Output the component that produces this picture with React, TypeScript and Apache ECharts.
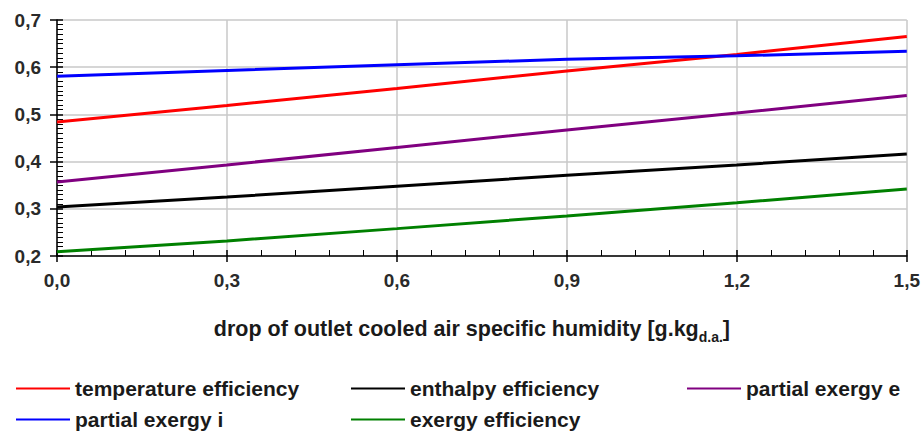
import React, { useEffect, useRef } from "react";
import * as echarts from "echarts";

const xValues = [0, 0.3, 0.6, 0.9, 1.2, 1.5];
const seriesNames = [
  "temperature efficiency",
  "enthalpy efficiency",
  "partial exergy e",
  "partial exergy i",
  "exergy efficiency",
];
const temperatureEfficiency = [0.484, 0.519, 0.555, 0.592, 0.627, 0.665];
const enthalpyEfficiency = [0.304, 0.325, 0.348, 0.371, 0.393, 0.416];
const partialExergyE = [0.357, 0.393, 0.43, 0.467, 0.503, 0.54];
const partialExergyI = [0.581, 0.593, 0.605, 0.617, 0.624, 0.634];
const exergyEfficiency = [0.209, 0.232, 0.258, 0.285, 0.313, 0.342];
const seriesColors = ["#ff0000", "#000000", "#800080", "#0000ff", "#008000"];

const allValues = [
  temperatureEfficiency,
  enthalpyEfficiency,
  partialExergyE,
  partialExergyI,
  exergyEfficiency,
];

const fmt = (v: number) => v.toFixed(1).replace(".", ",");

export default function App() {
  const ref = useRef<HTMLDivElement>(null);
  useEffect(() => {
    if (!ref.current) return;
    const chart = echarts.init(ref.current, undefined, { renderer: "svg" });
    const font = "Liberation Sans, Arial, sans-serif";
    const legendText = { fontFamily: font, fontSize: 21, fontWeight: "bold", color: "#1a1a1a" };
    const mkLegend = (names: string[], left: number) => ({
      data: names,
      left,
      top: 378,
      orient: "vertical",
      padding: 0,
      itemGap: 10,
      itemWidth: 54,
      itemHeight: 2,
      icon: "rect",
      textStyle: legendText,
      selectedMode: false,
    });
    const axisCommonX = {
      type: "value",
      min: 0,
      max: 1.5,
      interval: 0.3,
      gridIndex: 0,
      position: "bottom",
    };
    const axisCommonY = {
      type: "value",
      min: 0.2,
      max: 0.7,
      interval: 0.1,
      gridIndex: 0,
      position: "left",
    };
    chart.setOption({
      animation: false,
      backgroundColor: "#ffffff",
      grid: { left: 57, right: 16, top: 20, bottom: 178 },
      legend: [
        mkLegend([seriesNames[0], seriesNames[3]], 16),
        mkLegend([seriesNames[1], seriesNames[4]], 351),
        mkLegend([seriesNames[2]], 687),
      ],
      xAxis: [
        {
          ...axisCommonX,
          name: "{a|drop of outlet cooled air specific humidity [g.kg}{s|d.a.}{a|]}",
          nameLocation: "middle",
          nameGap: 62,
          nameTextStyle: {
            padding: [0, 20, 0, 0],
            rich: {
              a: { fontFamily: font, fontSize: 21.5, fontWeight: "bold", color: "#1a1a1a", lineHeight: 23, verticalAlign: "top" },
              s: { fontFamily: font, fontSize: 14, fontWeight: "bold", color: "#1a1a1a", lineHeight: 15, verticalAlign: "top", padding: [12, 0, 0, 0] },
            },
          },
          axisLine: { show: true, lineStyle: { color: "#000", width: 1.5 } },
          axisTick: { show: true, inside: true, length: 6, lineStyle: { color: "#000", width: 1.5 } },
          minorTick: { show: true, splitNumber: 5, length: 6, lineStyle: { color: "#000", width: 1 } },
          axisLabel: {
            formatter: fmt,
            margin: 15,
            fontFamily: font,
            fontSize: 19,
            fontWeight: "bold",
            color: "#2a2a2a",
          },
          splitLine: { show: true, lineStyle: { color: "#c8c8c8", width: 1.5 } },
        },
        {
          ...axisCommonX,
          axisLine: { show: false },
          axisTick: { show: true, inside: false, length: 6, lineStyle: { color: "#000", width: 1.5 } },
          axisLabel: { show: false },
          splitLine: { show: false },
        },
      ],
      yAxis: [
        {
          ...axisCommonY,
          axisLine: { show: true, lineStyle: { color: "#000", width: 1.5 } },
          axisTick: { show: true, inside: true, length: 6, lineStyle: { color: "#000", width: 1.5 } },
          minorTick: { show: true, splitNumber: 10, length: 6, lineStyle: { color: "#000", width: 1 } },
          axisLabel: {
            formatter: fmt,
            margin: 16,
            fontFamily: font,
            fontSize: 19,
            fontWeight: "bold",
            color: "#2a2a2a",
          },
          splitLine: { show: true, lineStyle: { color: "#c8c8c8", width: 1.5 } },
        },
        {
          ...axisCommonY,
          axisLine: { show: false },
          axisTick: { show: true, inside: false, length: 7, lineStyle: { color: "#000", width: 1.5 } },
          axisLabel: { show: false },
          splitLine: { show: false },
        },
      ],
      series: seriesNames.map((name, i) => ({
        name,
        type: "line",
        xAxisIndex: 0,
        yAxisIndex: 0,
        data: xValues.map((x, j) => [x, allValues[i][j]]),
        symbol: "none",
        color: seriesColors[i],
        lineStyle: { color: seriesColors[i], width: 3 },
        z: 3,
      })),
    });
    return () => chart.dispose();
  }, []);
  return <div ref={ref} style={{ width: 923, height: 434, position: "absolute", left: 0, top: 0 }} />;
}
